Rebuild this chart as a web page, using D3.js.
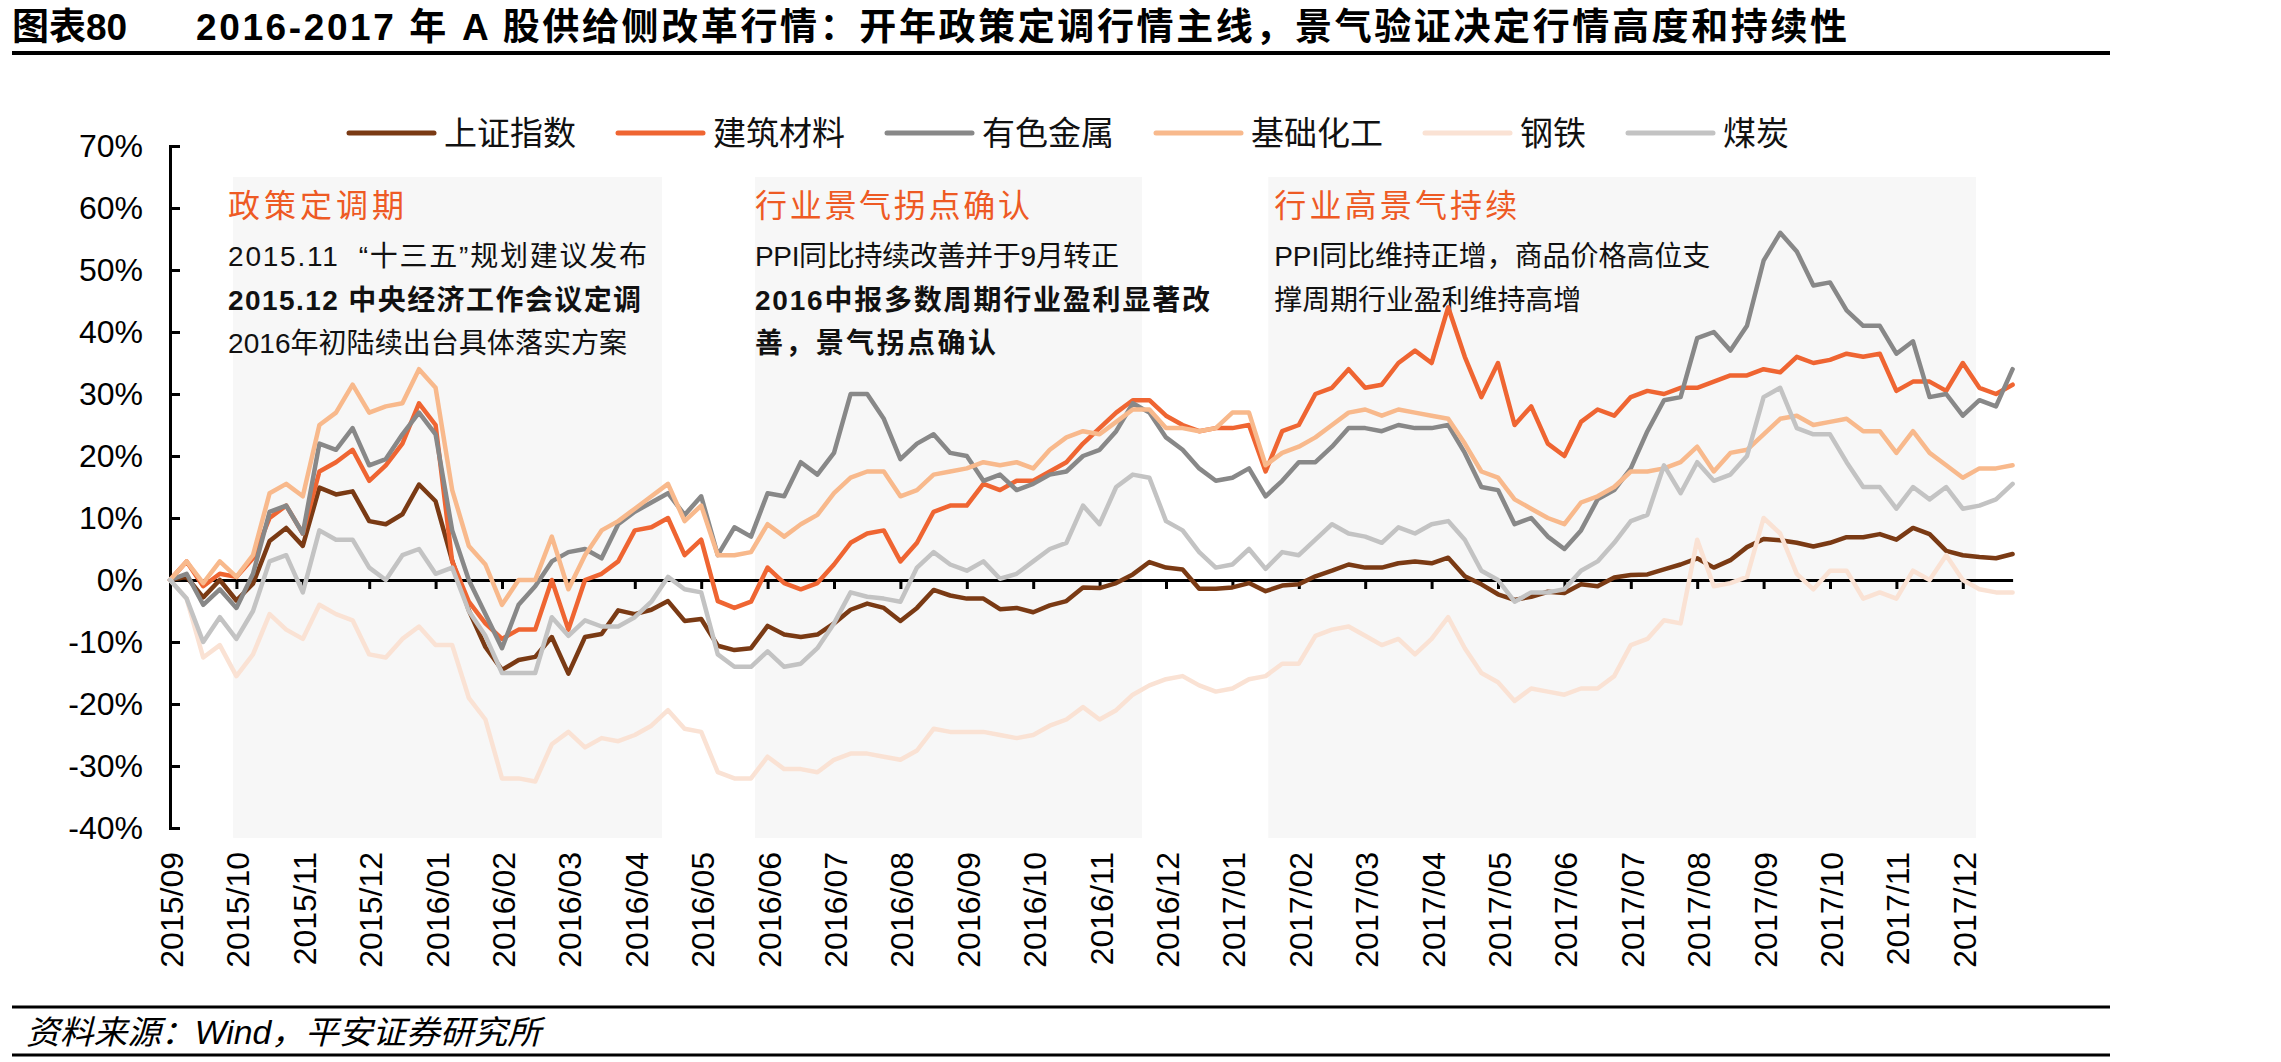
<!DOCTYPE html>
<html><head><meta charset="utf-8">
<script src="https://cdn.jsdelivr.net/npm/d3@7/dist/d3.min.js"></script>
<style>
html,body{margin:0;padding:0;background:#fff;}
svg{display:block;}
text{font-family:"Liberation Sans","Noto Sans CJK SC",sans-serif;white-space:pre;}
</style></head><body>
<svg id="chart" width="2281" height="1062"></svg>
<script>
// ---------------- DATA ----------------
const monthLabels = ["2015/09","2015/10","2015/11","2015/12","2016/01","2016/02","2016/03","2016/04",
  "2016/05","2016/06","2016/07","2016/08","2016/09","2016/10","2016/11","2016/12","2017/01","2017/02",
  "2017/03","2017/04","2017/05","2017/06","2017/07","2017/08","2017/09","2017/10","2017/11","2017/12"];
const stepMonths = 0.25; // each value below is one sample every quarter month from 2015/09
const seriesNames = ["上证指数","建筑材料","有色金属","基础化工","钢铁","煤炭"];
const yTickValues = [-40,-30,-20,-10,0,10,20,30,40,50,60,70];

const shangzheng = [
  0,0.5,-2.8,0,-3.3,-0.6,6.3,8.4,
  5.5,14.9,13.8,14.3,9.5,9.0,10.6,15.4,
  12.7,3.1,-4.9,-10.8,-14.5,-12.9,-12.4,-9.2,
  -15.1,-9.2,-8.7,-4.9,-5.5,-4.8,-3.4,-6.6,
  -6.3,-10.6,-11.3,-11.0,-7.4,-8.8,-9.2,-8.8,
  -7.0,-4.8,-3.8,-4.5,-6.6,-4.5,-1.6,-2.5,
  -3.0,-3.0,-4.7,-4.5,-5.2,-4.1,-3.4,-1.2,
  -1.3,-0.5,0.9,2.9,2.0,1.7,-1.4,-1.4,
  -1.2,-0.5,-1.8,-0.9,-0.7,0.6,1.5,2.5,
  2.0,2.0,2.7,3.0,2.7,3.6,0.6,-0.7,
  -2.3,-3.2,-2.7,-1.9,-2.1,-0.7,-1.0,0.4,
  0.8,0.9,1.7,2.5,3.5,2.0,3.2,5.3,
  6.6,6.4,6.0,5.4,6.0,6.9,6.9,7.4,
  6.5,8.4,7.4,4.7,4.0,3.7,3.5,4.2];
const jianzhuCailiao = [
  0,3,-1,1,0.5,3.5,10,12,
  7.5,17.5,19,21,16,18.5,22,28.5,
  25,3,-3.5,-7,-9.5,-8,-8,0,
  -8,0,1,3,8,8.5,10,4,
  6.5,-3.4,-4.5,-3.5,2,-0.5,-1.5,-0.5,
  2.5,6,7.5,8,3,6,11,12,
  12,15.5,14.5,16,16,17.5,19,22,
  24.5,27,29,29,26.5,25,24,24.5,
  24.5,25,17.5,24,25,30,31,34,
  31,31.5,35,37,35,44,36,29.5,
  35,25,28,22,20,25.5,27.5,26.5,
  29.5,30.5,30,31,31,32,33,33,
  34,33.5,36,35,35.5,36.5,36,36.5,
  30.5,32,32,30.5,35,31,30,31.5];
const youseJinshu = [
  0,1,-4,-1.5,-4.5,1,11,12,
  7.5,22,21,24.5,18.5,19.5,23.5,27,
  23.5,8,0,-5.5,-11,-4,-1,3,
  4.5,5,3.5,9,11,12.5,14,10.5,
  13.5,4,8.5,7,14,13.5,19,17,
  20.5,30,30,26,19.5,22,23.5,20.5,
  20,16,17,14.5,15.5,17,17.5,20,
  21,24,28.5,27,23,21,18,16,
  16.5,18,13.5,16,19,19,21.5,24.5,
  24.5,24,25,24.5,24.5,25,20.5,15,
  14.5,9,10,7,5,8,13,14.5,
  18,24,29,29.5,39,40,37,41,
  51.5,56,53,47.5,48,43.5,41,41,
  36.5,38.5,29.5,30,26.5,29,28,34];
const jichuHuagong = [
  0,3,-0.5,3,0.5,4,14,15.5,
  13.5,25,27,31.5,27,28,28.5,34,
  31,14.5,5.5,2.5,-4,0,0,7,
  -1.5,4,8,9.5,11.5,13.5,15.5,9.5,
  12,4,4,4.5,9,7,9,10.5,
  14,16.5,17.5,17.5,13.5,14.5,17,17.5,
  18,19,18.5,19,18,21,23,24,
  23.5,25.5,27.5,27.5,24.5,24.5,24,24.5,
  27,27,18.5,20.5,21.5,23,25,27,
  27.5,26.5,27.5,27,26.5,26,22,17.5,
  16.5,13,11.5,10,9,12.5,13.5,15,
  17.5,17.5,18,19,21.5,17.5,20.5,21,
  23.5,26,26.5,25,25.5,26,24,24,
  20.5,24,20.5,18.5,16.5,18,18,18.5];
const gangtie = [
  0,-3,-12.5,-10.5,-15.5,-12,-5.5,-8,
  -9.5,-4,-5.5,-6.5,-12,-12.5,-9.5,-7.5,
  -10.5,-10.5,-19,-22.5,-32,-32,-32.5,-26.5,
  -24.5,-27,-25.5,-26,-25,-23.5,-21,-24,
  -24.5,-31,-32,-32,-28.5,-30.5,-30.5,-31,
  -29,-28,-28,-28.5,-29,-27.5,-24,-24.5,
  -24.5,-24.5,-25,-25.5,-25,-23.5,-22.5,-20.5,
  -22.5,-21,-18.5,-17,-16,-15.5,-17,-18,
  -17.5,-16,-15.5,-13.5,-13.5,-9,-8,-7.5,
  -9,-10.5,-9.5,-12,-9.5,-6,-11,-15,
  -16.5,-19.5,-17.5,-18,-18.5,-17.5,-17.5,-15.5,
  -10.5,-9.5,-6.5,-7,6.5,-1,-0.5,0.5,
  10,7.5,1,-1.5,1.5,1.5,-3,-2,
  -3,1.5,0,4,0,-1.5,-2,-2];
const meitan = [
  0,-3,-10,-6,-9.5,-5,3,4,
  -2,8,6.5,6.5,2,0,4,5,
  1,2,-5,-9,-15,-15,-15,-6,
  -9,-6.5,-7.5,-7.5,-6,-3.5,0.5,-1.5,
  -2,-12,-14,-14,-11.5,-14,-13.5,-11,
  -7,-2,-2.7,-3,-3.5,2,4.5,2.5,
  1.5,3,0.2,1,3,5,6,12,
  9,15,17,16.5,9.5,8,4.5,2,
  2.5,5,1.8,4.5,4,6.5,9,7.5,
  7,6,8.5,7.5,9,9.5,6.5,1.5,
  0,-3.5,-2,-2,-1.5,1.5,3,6,
  9.5,10.5,18.5,14,19,16,17,20,
  29.5,31,24.5,23.5,23.5,19,15,15,
  11.5,15,13,15,11.5,12,13,15.5];
const seriesValues = [shangzheng, jianzhuCailiao, youseJinshu, jichuHuagong, gangtie, meitan];

// annotation periods (in months from 2015/09) and their texts
const periodStarts = [0.95, 8.81, 16.54];
const periodEnds   = [7.41, 14.64, 27.2];
const periodTitles = ["政策定调期", "行业景气拐点确认", "行业高景气持续"];
const periodLines = [
  ["2015.11  “十三五”规划建议发布", "2015.12 中央经济工作会议定调", "2016年初陆续出台具体落实方案"],
  ["PPI同比持续改善并于9月转正", "2016中报多数周期行业盈利显著改", "善，景气拐点确认"],
  ["PPI同比维持正增，商品价格高位支", "撑周期行业盈利维持高增"]
];
const periodLineBold = [[false,true,false],[false,true,true],[false,false]];
const titleLabel = "图表80";
const titleText = "2016-2017 年 A 股供给侧改革行情：开年政策定调行情主线，景气验证决定行情高度和持续性";
const sourceText = "资料来源：Wind，平安证券研究所";

// ---------------- STYLE / LAYOUT ----------------
const colors = ["#7a3a14","#ef6532","#888888","#f8b98c","#fae2d4","#c3c3c3"];
const accent = "#ee5a24";
const lastT = (shangzheng.length - 1) * stepMonths;
const layout = {
  plotLeft: 170, monthPx: 66.4, yTop: 146, yBottom: 828,
  shadeTopVal: 65, shadeBottomVal: -41.6,
  textDx: [-5, 0, 6],
  titleW: [176, 275, 243],
  lineW: [[419, 413, 399], [364, 455, 241], [436, 307]],
  lineY: [256, 300, 343], headY: 206
};

const svg = d3.select("#chart");
const x = d3.scaleLinear().domain([0, lastT]).range([layout.plotLeft, layout.plotLeft + lastT * layout.monthPx]);
const y = d3.scaleLinear().domain([-40, 70]).range([layout.yBottom, layout.yTop]);

// title
svg.append("text").attr("x", 12).attr("y", 27).attr("dominant-baseline", "central")
  .attr("font-size", 37).attr("font-weight", "bold").attr("fill", "#000").text(titleLabel);
svg.append("text").attr("x", 196).attr("y", 27).attr("dominant-baseline", "central")
  .attr("font-size", 37).attr("font-weight", "bold").attr("fill", "#000")
  .attr("textLength", 1651).attr("lengthAdjust", "spacing").text(titleText);
svg.append("line").attr("x1", 12).attr("x2", 2110).attr("y1", 53).attr("y2", 53)
  .attr("stroke", "#000").attr("stroke-width", 4);

// shaded periods
const shadeG = svg.append("g");
periodStarts.forEach((s, i) => {
  shadeG.append("rect")
    .attr("x", x(s)).attr("width", x(periodEnds[i]) - x(s))
    .attr("y", y(layout.shadeTopVal)).attr("height", y(layout.shadeBottomVal) - y(layout.shadeTopVal))
    .attr("fill", "#f7f7f7");
});

// annotations
periodStarts.forEach((s, i) => {
  const tx = x(s) + layout.textDx[i];
  svg.append("text").attr("x", tx).attr("y", layout.headY).attr("dominant-baseline", "central")
    .attr("font-size", 32).attr("fill", accent)
    .attr("textLength", layout.titleW[i]).attr("lengthAdjust", "spacing").text(periodTitles[i]);
  periodLines[i].forEach((ln, j) => {
    svg.append("text").attr("x", tx).attr("y", layout.lineY[j]).attr("dominant-baseline", "central")
      .attr("font-size", 28).attr("font-weight", periodLineBold[i][j] ? "bold" : "normal")
      .attr("fill", "#111")
      .attr("textLength", layout.lineW[i][j]).attr("lengthAdjust", "spacing").text(ln);
  });
});

// x axis on zero line
const xAxis = d3.axisBottom(x).tickValues(d3.range(0, monthLabels.length)).tickSize(9).tickSizeOuter(0).tickFormat("");
const gx = svg.append("g").attr("transform", `translate(0,${y(0)})`).call(xAxis);
gx.select(".domain").attr("stroke", "#000").attr("stroke-width", 3);
gx.selectAll(".tick line").attr("stroke", "#000").attr("stroke-width", 3);

// y axis
const yAxis = d3.axisLeft(y).tickValues(yTickValues).tickSize(-10).tickSizeOuter(-10).tickPadding(27)
  .tickFormat(d => d + "%");
const gy = svg.append("g").attr("transform", `translate(${layout.plotLeft},0)`).call(yAxis);
gy.select(".domain").attr("stroke", "#000").attr("stroke-width", 3);
gy.selectAll(".tick line").attr("stroke", "#000").attr("stroke-width", 3);
gy.selectAll(".tick text").attr("font-size", 32).attr("fill", "#000")
  .attr("font-family", "'Liberation Sans', Arial, sans-serif");

// series lines
const lineGen = d3.line().x((d, i) => x(i * stepMonths)).y(d => y(d));
const linesG = svg.append("g");
seriesValues.forEach((vals, k) => {
  linesG.append("path").datum(vals).attr("d", lineGen)
    .attr("fill", "none").attr("stroke", colors[k]).attr("stroke-width", 4.5)
    .attr("stroke-linejoin", "round").attr("stroke-linecap", "round");
});

// x labels (rotated)
const labG = svg.append("g");
monthLabels.forEach((lab, i) => {
  labG.append("text").attr("transform", `translate(${x(i) + 2},852) rotate(-90)`)
    .attr("text-anchor", "end").attr("dominant-baseline", "central")
    .attr("font-size", 32).attr("fill", "#000").text(lab);
});

// legend
const legG = svg.append("g");
let lx = 349;
seriesNames.forEach((nm, k) => {
  legG.append("line").attr("x1", lx).attr("x2", lx + 85).attr("y1", 133).attr("y2", 133)
    .attr("stroke", colors[k]).attr("stroke-width", 5).attr("stroke-linecap", "round");
  const t = legG.append("text").attr("x", lx + 95).attr("y", 133).attr("dominant-baseline", "central")
    .attr("font-size", 33).attr("fill", "#111").text(nm);
  lx += 85 + 10 + t.node().getComputedTextLength() + 42;
});

// footer
svg.append("line").attr("x1", 12).attr("x2", 2110).attr("y1", 1007).attr("y2", 1007)
  .attr("stroke", "#000").attr("stroke-width", 3);
svg.append("line").attr("x1", 12).attr("x2", 2110).attr("y1", 1055).attr("y2", 1055)
  .attr("stroke", "#000").attr("stroke-width", 3);
svg.append("text").attr("x", 26).attr("y", 1032).attr("dominant-baseline", "central")
  .attr("font-size", 33).attr("font-style", "italic").attr("fill", "#000")
  .attr("textLength", 515).attr("lengthAdjust", "spacingAndGlyphs").text(sourceText);
</script>
</body></html>
